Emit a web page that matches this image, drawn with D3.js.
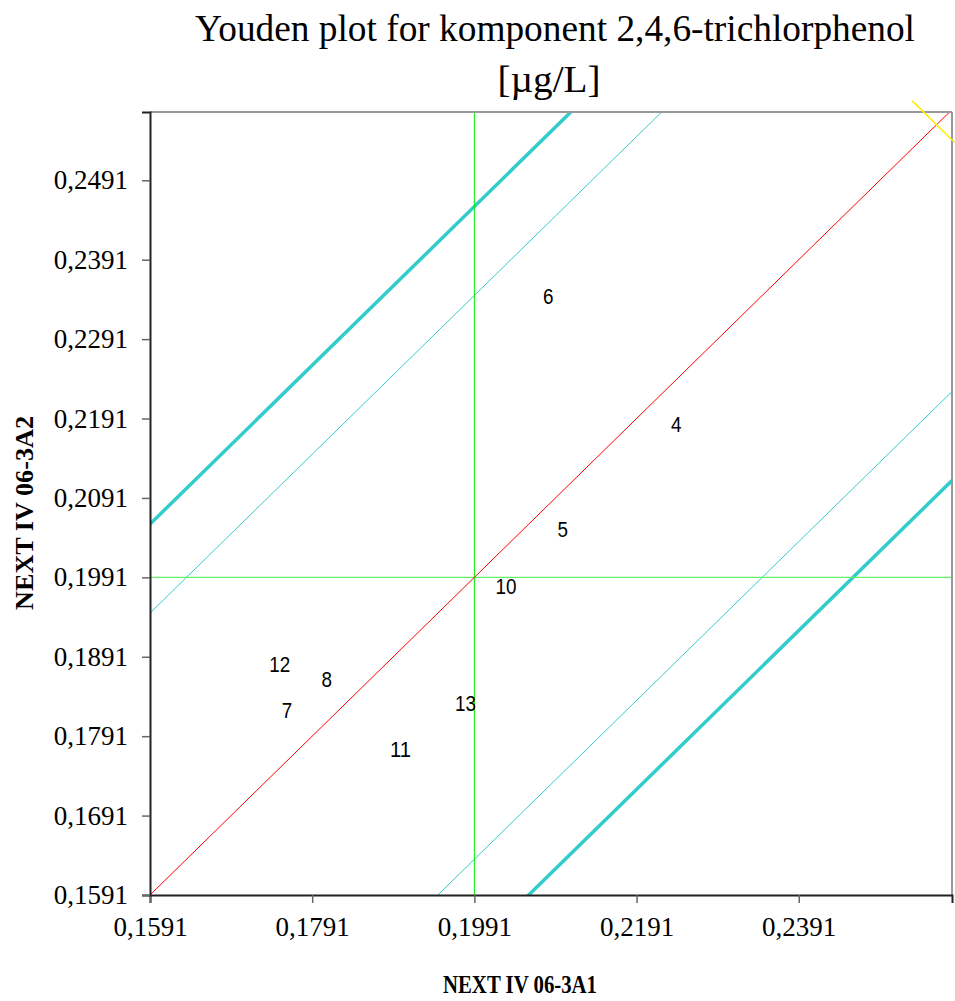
<!DOCTYPE html>
<html>
<head>
<meta charset="utf-8">
<script src="https://cdn.jsdelivr.net/npm/d3@7"></script>
<style>
  body { margin: 0; background: #fff; }
</style>
</head>
<body>
<svg id="chart" width="955" height="1001"></svg>
<script>
// data
const pointLabels = ["6", "4", "5", "10", "12", "8", "7", "13", "11"];
const sampleA1 = [0.2082, 0.2240, 0.2100, 0.2030, 0.1751, 0.1809, 0.1760, 0.1980, 0.1900];
const sampleA2 = [0.2345, 0.2184, 0.2051, 0.1980, 0.1882, 0.1862, 0.1824, 0.1832, 0.1775];

const xTickValues = [0.1591, 0.1791, 0.1991, 0.2191, 0.2391];
const yTickValues = [0.1591, 0.1691, 0.1791, 0.1891, 0.1991, 0.2091, 0.2191, 0.2291, 0.2391, 0.2491];
const axisMin = 0.1591;
const xAxisMax = 0.2580;
const yAxisMax = 0.2577;

const medianA1 = 0.1991;
const medianA2 = 0.1991;
const innerOffsets = [0.0355, -0.0355];   // thin cyan lines
const outerOffsets = [0.0467, -0.0467];   // thick cyan lines
const yellowSegment = [[0.2531, 0.2591], [0.2583, 0.2539]];

const svg = d3.select("#chart");
const margin = {top: 112, right: 3, bottom: 106, left: 150};
const width = 955 - margin.left - margin.right;
const height = 1001 - margin.top - margin.bottom;

const x = d3.scaleLinear().domain([axisMin, xAxisMax]).range([0, width]);
const y = d3.scaleLinear().domain([axisMin, yAxisMax]).range([height, 0]);
const fmt = d => d.toFixed(4).replace(".", ",");

const serif = "'Liberation Serif', 'Times New Roman', serif";
const sans = "'Liberation Sans', Arial, sans-serif";

svg.append("defs").append("clipPath").attr("id", "plotClip")
  .append("rect").attr("width", width).attr("height", height);

const g = svg.append("g").attr("transform", `translate(${margin.left},${margin.top})`);
const plot = g.append("g").attr("clip-path", "url(#plotClip)");

// diagonal helper: y = x + offset across the whole domain
function diag(offset) {
  return [[axisMin - 0.1, axisMin - 0.1 + offset], [xAxisMax + 0.1, xAxisMax + 0.1 + offset]];
}
const line = d3.line().x(d => x(d[0])).y(d => y(d[1]));

outerOffsets.forEach(o => {
  plot.append("path").attr("d", line(diag(o)))
    .attr("stroke", "#33cccc").attr("stroke-width", 3.5).attr("fill", "none");
});
innerOffsets.forEach(o => {
  plot.append("path").attr("d", line(diag(o)))
    .attr("stroke", "#33cccc").attr("stroke-width", 1).attr("fill", "none");
});

// median cross
plot.append("line")
  .attr("x1", x(medianA1)).attr("x2", x(medianA1)).attr("y1", 0).attr("y2", height)
  .attr("stroke", "#00ee00").attr("stroke-width", 1);
plot.append("line")
  .attr("x1", 0).attr("x2", width).attr("y1", y(medianA2)).attr("y2", y(medianA2))
  .attr("stroke", "#66ee66").attr("stroke-width", 1.2);

// y = x
plot.append("path").attr("d", line(diag(0)))
  .attr("stroke", "#ff0000").attr("stroke-width", 1).attr("fill", "none");

// frame: top & right grey
g.append("line").attr("x1", 0).attr("x2", width).attr("y1", 0).attr("y2", 0)
  .attr("stroke", "#999").attr("stroke-width", 2);
g.append("line").attr("x1", width).attr("x2", width).attr("y1", 0).attr("y2", height)
  .attr("stroke", "#999").attr("stroke-width", 2);

// axes
const xAxis = g.append("g").attr("transform", `translate(0,${height})`)
  .call(d3.axisBottom(x).tickValues(xTickValues).tickFormat(fmt).tickSize(8).tickPadding(14));
const yAxis = g.append("g")
  .call(d3.axisLeft(y).tickValues(yTickValues).tickFormat(fmt).tickSize(8).tickPadding(14));

[xAxis, yAxis].forEach(ax => {
  ax.select(".domain").attr("stroke", "#222").attr("stroke-width", 2);
  ax.selectAll(".tick line").attr("stroke", "#666").attr("stroke-width", 1.5);
  ax.selectAll(".tick text")
    .attr("font-family", serif).attr("font-size", 27).attr("fill", "#000");
});
xAxis.selectAll(".tick text").attr("dy", "0.71em");

// point labels (slightly condensed, like the original)
g.append("g").selectAll("text")
  .data(pointLabels)
  .join("text")
  .attr("x", (d, i) => x(sampleA1[i]))
  .attr("y", (d, i) => y(sampleA2[i]))
  .attr("dy", "0.35em")
  .attr("text-anchor", "middle")
  .attr("font-family", sans)
  .attr("font-size", 22)
  .attr("textLength", d => d.length * 10.5)
  .attr("lengthAdjust", "spacingAndGlyphs")
  .attr("fill", "#000")
  .text(d => d);

// yellow segment crossing the corner (not clipped)
g.append("path").attr("d", line(yellowSegment))
  .attr("stroke", "#ffee00").attr("stroke-width", 1.5).attr("fill", "none");

// titles
svg.append("text")
  .attr("x", 555).attr("y", 41)
  .attr("text-anchor", "middle")
  .attr("font-family", serif).attr("font-size", 38)
  .attr("textLength", 720).attr("lengthAdjust", "spacingAndGlyphs")
  .text("Youden plot for komponent 2,4,6-trichlorphenol");
svg.append("text")
  .attr("x", 549).attr("y", 92)
  .attr("text-anchor", "middle")
  .attr("font-family", serif).attr("font-size", 38)
  .attr("textLength", 103).attr("lengthAdjust", "spacingAndGlyphs")
  .text("[µg/L]");

svg.append("text")
  .attr("x", 520).attr("y", 993)
  .attr("text-anchor", "middle")
  .attr("font-family", serif).attr("font-weight", "bold").attr("font-size", 26)
  .attr("textLength", 154).attr("lengthAdjust", "spacingAndGlyphs")
  .text("NEXT IV 06-3A1");

svg.append("text")
  .attr("transform", "translate(33,513) rotate(-90)")
  .attr("text-anchor", "middle")
  .attr("font-family", serif).attr("font-weight", "bold").attr("font-size", 26)
  .attr("textLength", 194).attr("lengthAdjust", "spacingAndGlyphs")
  .text("NEXT IV 06-3A2");
</script>
</body>
</html>
